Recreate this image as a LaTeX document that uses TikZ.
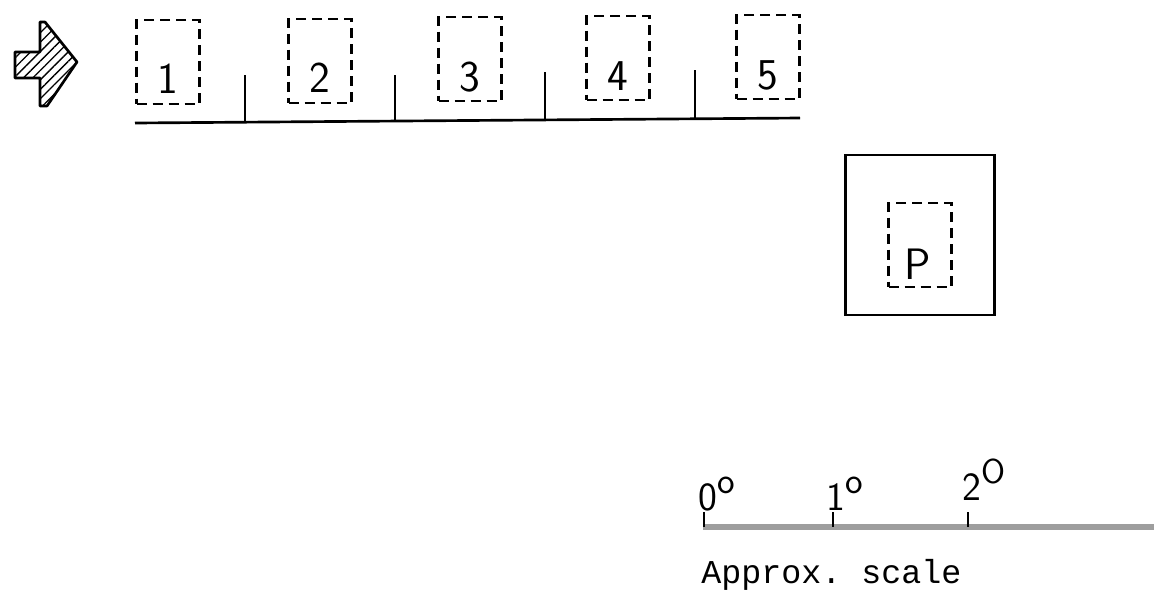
\documentclass[tikz,border=0pt]{standalone}
\usepackage{fontspec}
\setmonofont{Liberation Mono}
\usetikzlibrary{patterns.meta}
\begin{document}
\begin{tikzpicture}[x=0.75pt,y=-0.75pt,
  dbox/.style={draw, line width=1.9pt, dash pattern=on 7.5pt off 4.5pt, minimum width=47pt, minimum height=63pt, inner sep=0pt},
  num/.style={font=\sffamily\fontsize{33}{33}\selectfont, inner sep=0pt},
  solidline/.style={line width=2pt},
  deg/.style={font=\sffamily\fontsize{30}{30}\selectfont, inner sep=0pt, anchor=base west},
  degsup/.style={}]
\useasboundingbox (0,0) rectangle (1154,601);
% hatched arrow
\draw[line width=2pt, line join=round, pattern={Lines[distance=5pt, angle=45, line width=1pt]}]
  (15,52) -- (40,52) -- (40,22) -- (45,22) -- (77,62) -- (47,106) -- (40,106) -- (40,78) -- (15,78) -- cycle;
% dashed boxes
\node[dbox] (b1) at (168,62) {};
\node[dbox] (b2) at (320,61) {};
\node[dbox] (b3) at (470,59) {};
\node[dbox] (b4) at (618,58) {};
\node[dbox] (b5) at (768,57) {};
\node[num] (n1) at (168,79) {1};
\node[num] (n2) at (320,78) {2};
\node[num] (n3) at (470,77) {3};
\node[num] (n4) at (618,76) {4};
\node[num] (n5) at (768,75) {5};
% base line with ticks
\coordinate (la) at (135,123);
\coordinate (lb) at (800,118);
\draw[solidline] (la) -- (lb);
\coordinate (t1) at (245,75); \coordinate (t1b) at (245,122);
\coordinate (t2) at (395,75); \coordinate (t2b) at (395,121);
\coordinate (t3) at (545,72); \coordinate (t3b) at (545,119);
\coordinate (t4) at (695,70); \coordinate (t4b) at (695,118);
\draw[solidline] (t1) -- (t1b);
\draw[solidline] (t2) -- (t2b);
\draw[solidline] (t3) -- (t3b);
\draw[solidline] (t4) -- (t4b);
% P box
\node[draw, line width=2.2pt, minimum width=112pt, minimum height=120pt, inner sep=0pt] (pbox) at (920,235) {};
\node[dbox] (bp) at (920,245) {};
\node[num] (np) at (918,264) {P};
% scale
\coordinate (s0) at (703,527);
\coordinate (s3) at (1154,527);
\draw[line width=4.5pt, black!38] (s0) -- (s3);
\coordinate (k0) at (704,512); \coordinate (k0b) at (704,527);
\coordinate (k1) at (833,512); \coordinate (k1b) at (833,527);
\coordinate (k2) at (968,512); \coordinate (k2b) at (968,527);
\draw[line width=1.6pt] (k0) -- (k0b);
\draw[line width=1.6pt] (k1) -- (k1b);
\draw[line width=1.6pt] (k2) -- (k2b);
\node[deg] (d0) at (698,510) {0\raisebox{0.42em}{\fontsize{28}{28}\selectfont o}};
\node[deg] (d1) at (826,510) {1\raisebox{0.42em}{\fontsize{28}{28}\selectfont o}};
\node[deg] (d2) at (962,500) {2\raisebox{0.42em}{\fontsize{26}{26}\selectfont O}};
\node[font=\ttfamily\fontsize{25}{25}\selectfont, anchor=base west, inner sep=0pt] (cap) at (701,583) {Approx. scale};
\end{tikzpicture}
\end{document}
